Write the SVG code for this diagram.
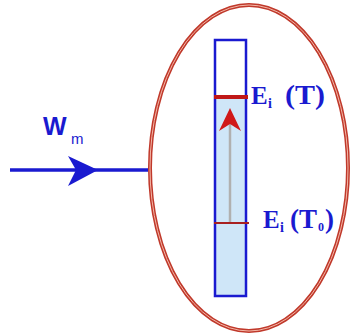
<svg xmlns="http://www.w3.org/2000/svg" width="350" height="335" viewBox="0 0 350 335">
<style>
.lbl{font-family:"Liberation Serif",serif;font-weight:bold;fill:#1a1ad0}
.sans{font-family:"Liberation Sans",Arial,sans-serif;fill:#1a1ad0}
</style>
<rect width="350" height="335" fill="#fff"/>
<g id="system">
<ellipse cx="249" cy="168" rx="99" ry="163" fill="none" stroke="#c0392b" stroke-width="4"/>
<ellipse cx="249" cy="168" rx="99" ry="163" fill="none" stroke="#f4b8a8" stroke-width="1"/>
</g>
<g id="column">
<rect x="215" y="40" width="31" height="256" fill="#fff"/>
<rect x="215" y="97" width="31" height="199" fill="#cfe6f8"/>
<rect x="215" y="40" width="31" height="256" fill="none" stroke="#1a1ad0" stroke-width="2.5"/>
</g>
<g id="connectors">
<line x1="10" y1="170" x2="148" y2="170" stroke="#1a1ad0" stroke-width="3.5"/>
<path d="M68 156 L98 170 L68 186 L76 170 Z" fill="#1a1ad0"/>
<line x1="230" y1="223" x2="230" y2="116" stroke="#b0b0b0" stroke-width="2.5"/>
<path d="M230 108 L241 131 L230 124 L219 131 Z" fill="#d01818"/>
</g>
<g id="level-T">
<line x1="214" y1="97" x2="248" y2="97" stroke="#c01818" stroke-width="4"/>
<text class="lbl" font-size="25"><tspan x="251" y="104">E</tspan><tspan x="268" y="108" font-size="14">i</tspan><tspan x="285" y="104" font-size="27" textLength="40" lengthAdjust="spacingAndGlyphs">(T)</tspan></text>
</g>
<g id="level-T0">
<line x1="214" y1="223" x2="249" y2="223" stroke="#a82020" stroke-width="2"/>
<text class="lbl" font-size="25"><tspan x="263" y="228">E</tspan><tspan x="280" y="232" font-size="14">i</tspan><tspan x="290" y="228" font-size="27">(</tspan><tspan x="299" y="228" font-size="27">T</tspan><tspan x="318" y="231" font-size="12">0</tspan><tspan x="325" y="228" font-size="27">)</tspan></text>
</g>
<g id="work">
<text class="sans" x="43" y="135" font-size="25" font-weight="bold">W</text>
<text class="sans" x="71" y="144" font-size="15">m</text>
</g>
</svg>
